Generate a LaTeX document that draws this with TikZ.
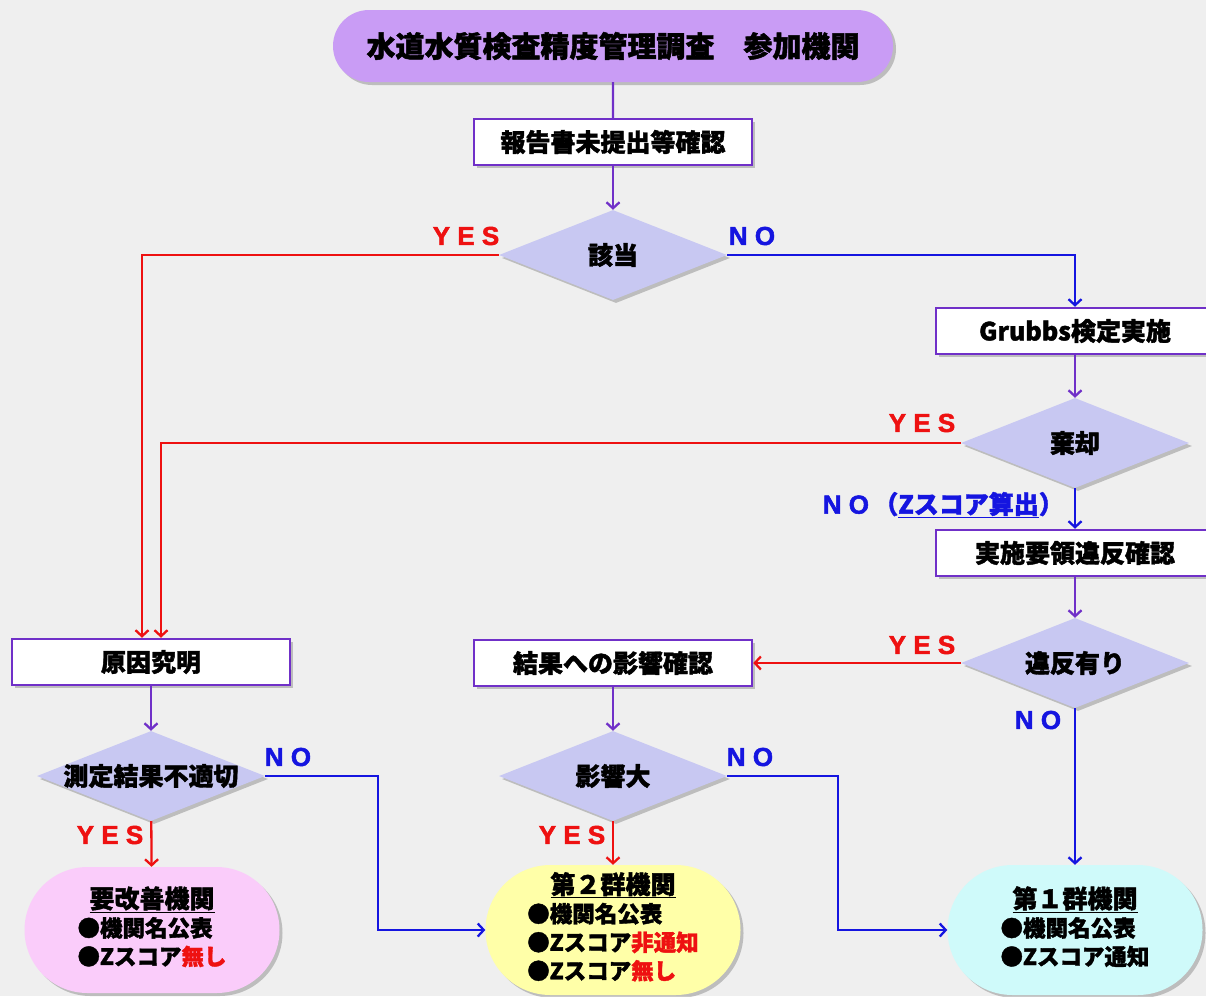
\documentclass[tikz,border=0pt]{standalone}
\usepackage{fontspec}
\setmainfont{Noto Sans CJK JP}[BoldFeatures={FakeBold=1.6}]
\newfontfamily\lat{Liberation Sans}[BoldFeatures={FakeBold=2}]
\usetikzlibrary{shapes.geometric,shapes.misc,arrows.meta,shadows}
\definecolor{bg}{HTML}{EFEFEF}
\definecolor{vio}{HTML}{7030C8}
\definecolor{rd}{HTML}{EE1111}
\definecolor{bl}{HTML}{1515E0}
\definecolor{dfill}{HTML}{C8C8F2}
\definecolor{tfill}{HTML}{C99CF5}
\definecolor{pk}{HTML}{FACCFA}
\definecolor{yl}{HTML}{FFFFA8}
\definecolor{cy}{HTML}{CFFAFA}
\begin{document}
\begin{tikzpicture}[x=1pt,y=-1pt,
  shd/.style={drop shadow={shadow xshift=3pt,shadow yshift=-3pt,opacity=0.3,fill=black!70}},
  box/.style={rectangle,draw=vio,line width=2.5pt,fill=white,minimum width=278,minimum height=46,inner sep=0pt,font=\bfseries\fontsize{25}{28}\selectfont,shd},
  dia/.style={diamond,fill=dfill,minimum width=228,minimum height=90,inner sep=0pt,shd},
  dtext/.style={font=\bfseries\fontsize{25}{28}\selectfont},
  pill/.style={rounded rectangle,minimum width=255,minimum height=126,inner sep=0pt,shd,font=\bfseries\fontsize{22.5}{28.5}\selectfont},
  lblr/.style={text=rd,font=\lat\bfseries\fontsize{26}{28}\selectfont,inner sep=0pt},
  lblb/.style={text=bl,font=\lat\bfseries\fontsize{26}{28}\selectfont,inner sep=0pt},
  tip/.style={-{Straight Barb[length=6pt,width=13pt]}},
  flow/.style={draw=vio,line width=2.3pt,tip},
  yesa/.style={draw=rd,line width=2.3pt,tip},
  noa/.style={draw=bl,line width=2.3pt,tip}
]
\fill[bg] (0,0) rectangle (1206,996);
\useasboundingbox (0,0) rectangle (1206,996);

% nodes
\node[rounded rectangle,fill=tfill,minimum width=560,minimum height=72,inner sep=0pt,shd,font=\bfseries\fontsize{29}{32}\selectfont] (title) at (613,46) {水道水質検査精度管理調査　参加機関};
\node[box] (b1) at (613,142) {報告書未提出等確認};
\node[dia,label={[dtext]center:該当}] (d1) at (613,255) {};
\node[box] (grubbs) at (1075,331) {Grubbs検定実施};
\node[dia,label={[dtext]center:棄却}] (d2) at (1075,443) {};
\node[box] (chk) at (1075,553) {実施要領違反確認};
\node[dia,label={[dtext]center:違反有り}] (d3) at (1075,663) {};
\node[box] (cause) at (151,662) {原因究明};
\node[box] (eff) at (613,663) {結果への影響確認};
\node[dia,label={[dtext]center:測定結果不適切}] (d4) at (151,776) {};
\node[dia,label={[dtext]center:影響大}] (d5) at (613,776) {};

\node[pill,fill=pk] (kai) at (152,930) {\begin{tabular}{@{}l@{}}\multicolumn{1}{@{}c@{}}{\fontsize{25}{28}\selectfont\underline{要改善機関}}\\●機関名公表\\●Zスコア\textcolor{rd}{無し}\end{tabular}};
\node[pill,fill=yl,minimum height=130] (g2) at (613,930) {\begin{tabular}{@{}l@{}}\multicolumn{1}{@{}c@{}}{\fontsize{25}{28}\selectfont\underline{第２群機関}}\\●機関名公表\\●Zスコア\textcolor{rd}{非通知}\\●Zスコア\textcolor{rd}{無し}\end{tabular}};
\node[pill,fill=cy,minimum height=130] (g1) at (1075,930) {\begin{tabular}{@{}l@{}}\multicolumn{1}{@{}c@{}}{\fontsize{25}{28}\selectfont\underline{第１群機関}}\\●機関名公表\\●Zスコア通知\end{tabular}};

\coordinate (k1) at (378,0);
\coordinate (k2) at (838,0);

% connectors
\draw[vio,line width=2.3pt] (title) -- (b1);
\draw[flow] (b1) -- (d1);
\draw[yesa] (d1.west) -| ([xshift=-9pt]cause.north);
\draw[noa] (d1.east) -| (grubbs.north);
\draw[flow] (grubbs) -- (d2);
\draw[yesa] (d2.west) -| ([xshift=10pt]cause.north);
\draw[noa] (d2) -- (chk);
\draw[flow] (chk) -- (d3);
\draw[yesa] (d3.west) -- (eff.east);
\draw[noa] (d3) -- (g1);
\draw[flow] (cause) -- (d4);
\draw[noa] (d4.east) -- (d4.east -| k1) |- (g2.west);
\draw[yesa] (d4) -- (kai);
\draw[flow] (eff) -- (d5);
\draw[noa] (d5.east) -- (d5.east -| k2) |- (g1.west);
\draw[yesa] (d5) -- (g2);

% labels
\node[lblr] (y1) at (466,236) {Y E S};
\node[lblb] (n1) at (752,236) {N O};
\node[lblr] (y2) at (922,423) {Y E S};
\node[lblb,anchor=east] (n2) at (1064,505) {N O\,{\rmfamily\fontsize{25}{28}\selectfont （\underline{Zスコア算出}）}};
\node[lblr] (y3) at (922,645) {Y E S};
\node[lblb] (n3) at (1038,720) {N O};
\node[lblb] (n4) at (288,757) {N O};
\node[lblr] (y4) at (110,835) {Y E S};
\node[lblb] (n5) at (750,757) {N O};
\node[lblr] (y5) at (572,835) {Y E S};
\end{tikzpicture}
\end{document}
